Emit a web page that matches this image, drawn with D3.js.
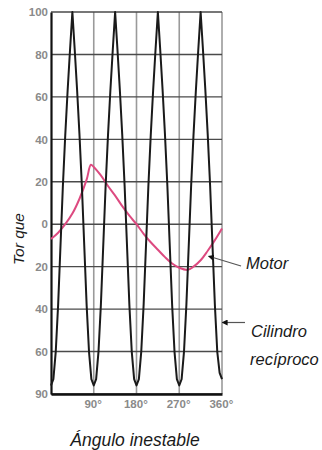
<!DOCTYPE html>
<html>
<head>
<meta charset="utf-8">
<script src="https://cdn.jsdelivr.net/npm/d3@7"></script>
<style>
  html, body { margin: 0; padding: 0; background: #fff; }
  svg { display: block; font-family: "Liberation Sans", Arial, sans-serif; }
</style>
</head>
<body>
<svg width="322" height="450"></svg>
<script>
// values
var angles = [0, 5, 10, 15, 20, 25, 30, 35, 40, 45, 50, 55, 60, 65, 70, 75, 80, 85,
              90, 95, 100, 105, 110, 115, 120, 125, 130, 135, 140, 145, 150, 155, 160, 165, 170, 175,
              180, 185, 190, 195, 200, 205, 210, 215, 220, 225, 230, 235, 240, 245, 250, 255, 260, 265,
              270, 275, 280, 285, 290, 295, 300, 305, 310, 315, 320, 325, 330, 335, 340, 345, 350, 355, 360];
var cylinder = [-76, -73, -60, -38, -10, 18, 42, 63, 82, 100, 82, 63, 42, 18, -10, -38, -60, -73,
                -76, -73, -60, -38, -10, 18, 42, 63, 82, 100, 82, 63, 42, 18, -10, -38, -60, -73,
                -76, -73, -60, -38, -10, 18, 42, 63, 82, 100, 82, 63, 42, 18, -10, -38, -60, -73,
                -76, -73, -60, -38, -10, 18, 42, 63, 82, 100, 82, 63, 42, 18, -10, -38, -60, -70, -73];

var motorAngles = [0, 15, 30, 45, 60, 75, 84, 90, 105, 120, 135, 150, 165, 180, 195, 210, 225, 240, 255, 270, 288, 300, 315, 330, 345, 360];
var motor = [-7, -4, 0, 5, 12, 21, 28, 27, 23, 18, 13.5, 8.5, 4, 0, -4.5, -8.5, -12, -15.5, -18.5, -20.5, -21.5, -20, -17, -12.5, -7.5, -2];

var yTicks = [100, 80, 60, 40, 20, 0, -20, -40, -60, -80];
var yLabels = ["100", "80", "60", "40", "20", "0", "20", "40", "60", "90"];
var xTicks = [90, 180, 270, 360];

var svg = d3.select("svg");
var x = d3.scaleLinear().domain([0, 360]).range([51, 222]);
var y = d3.scaleLinear().domain([-80, 100]).range([394, 12]);

// vertical grid
svg.append("g").selectAll("line")
    .data(xTicks)
    .enter().append("line")
    .attr("x1", function(d) { return x(d); })
    .attr("x2", function(d) { return x(d); })
    .attr("y1", y(100))
    .attr("y2", y(-80))
    .style("stroke", "#9a9a9a")
    .style("stroke-width", 1.6);

// horizontal grid
svg.append("g").selectAll("line")
    .data(yTicks)
    .enter().append("line")
    .attr("x1", x(0))
    .attr("x2", x(360))
    .attr("y1", function(d) { return y(d); })
    .attr("y2", function(d) { return y(d); })
    .style("stroke", "#4a4a4a")
    .style("stroke-width", 1.4);

// axes
var yAxis = svg.append("g")
    .attr("transform", "translate(" + x(0) + ",0)")
    .call(d3.axisLeft(y).tickValues(yTicks).tickSize(0).tickPadding(3)
        .tickFormat(function(d, i) { return yLabels[i]; }));
var xAxis = svg.append("g")
    .attr("transform", "translate(0," + y(-80) + ")")
    .call(d3.axisBottom(x).tickValues(xTicks).tickSize(0).tickPadding(6)
        .tickFormat(function(d) { return d + "°"; }));

yAxis.select(".domain").style("stroke", "#111").style("stroke-width", 2.2);
xAxis.select(".domain").style("stroke", "#111").style("stroke-width", 2.4);
svg.selectAll(".tick text")
    .style("font-size", "11.5px")
    .style("font-weight", "bold")
    .style("fill", "#8a8a8a");
xAxis.selectAll(".tick text").attr("dx", "-0.1em");

// curves
var line = d3.line()
    .x(function(d) { return x(d[0]); })
    .y(function(d) { return y(d[1]); });

svg.append("path")
    .datum(d3.zip(motorAngles, motor))
    .attr("d", line.curve(d3.curveCatmullRom.alpha(0.5)))
    .style("fill", "none")
    .style("stroke", "#dd4a80")
    .style("stroke-width", 2);

svg.append("path")
    .datum(d3.zip(angles, cylinder))
    .attr("d", line.curve(d3.curveLinear))
    .style("fill", "none")
    .style("stroke", "#1a1a1a")
    .style("stroke-width", 2)
    .style("stroke-linejoin", "round");

// arrow heads
svg.append("defs").append("marker")
    .attr("id", "arrow")
    .attr("viewBox", "0 0 10 10")
    .attr("refX", 1).attr("refY", 5)
    .attr("markerWidth", 5).attr("markerHeight", 5)
    .attr("orient", "auto-start-reverse")
    .append("path")
    .attr("d", "M0,0L10,5L0,10z")
    .style("fill", "#111");

// labels and leader lines
svg.append("line")
    .attr("x1", 241).attr("y1", 266)
    .attr("x2", 213).attr("y2", 257.5)
    .attr("marker-end", "url(#arrow)")
    .style("stroke", "#555").style("stroke-width", 1.2);
svg.append("line")
    .attr("x1", 245).attr("y1", 322.5)
    .attr("x2", 227).attr("y2", 322.5)
    .attr("marker-end", "url(#arrow)")
    .style("stroke", "#555").style("stroke-width", 1.2);

var labelStyle = function(t) {
  t.style("font-style", "italic").style("font-size", "16.5px").style("fill", "#1a1a1a");
};
svg.append("text").attr("x", 246).attr("y", 269).text("Motor").call(labelStyle);
svg.append("text").attr("x", 251).attr("y", 337).text("Cilindro").call(labelStyle);
svg.append("text").attr("x", 250).attr("y", 365).text("recíproco").call(labelStyle);

svg.append("text")
    .attr("transform", "translate(24,239) rotate(-90)")
    .attr("text-anchor", "middle")
    .text("Tor que")
    .call(labelStyle)
    .style("font-size", "15.5px");

svg.append("text")
    .attr("x", 135).attr("y", 446)
    .attr("text-anchor", "middle")
    .text("Ángulo inestable")
    .call(labelStyle)
    .style("font-size", "17.5px");
</script>
</body>
</html>
